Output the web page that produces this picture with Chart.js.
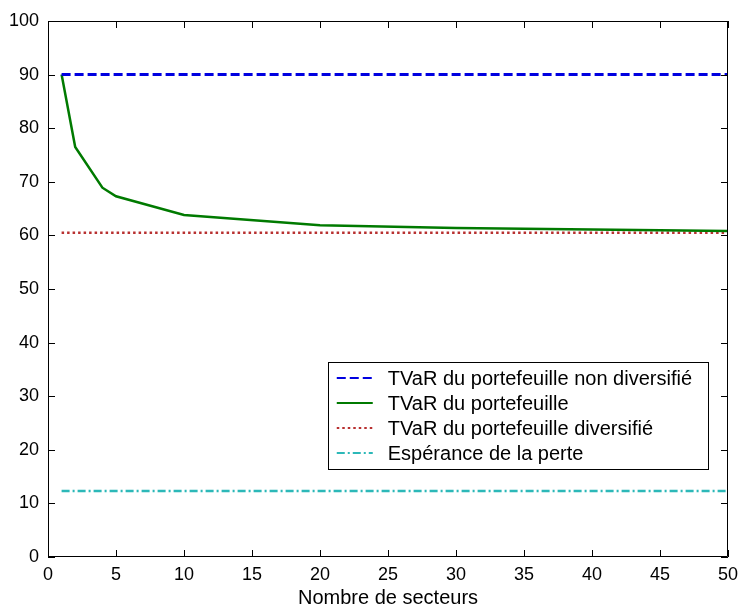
<!DOCTYPE html>
<html>
<head>
<meta charset="utf-8">
<script src="https://cdn.jsdelivr.net/npm/chart.js@4.4.1/dist/chart.umd.min.js"></script>
<style>
    body { margin: 0; background: #fff; }
    canvas { display: block; }
</style>
</head>
<body>
<canvas id="tvarChart" width="741" height="610"></canvas>
<script>
// data
const sectors = [1, 2, 4, 5, 10, 20, 30, 40, 50];
const tvarPortfolio = [90, 76.5, 68.9, 67.3, 63.8, 61.9, 61.4, 61.1, 60.8];
const flatRange = [1, 50];
const tvarNonDiversified = 90;
const tvarDiversified = 60.5;
const expectedLoss = 12.3;
const xTicks = [0, 5, 10, 15, 20, 25, 30, 35, 40, 45, 50];
const yTicks = [0, 10, 20, 30, 40, 50, 60, 70, 80, 90, 100];
const seriesLabels = [
    'TVaR du portefeuille non diversifié',
    'TVaR du portefeuille',
    'TVaR du portefeuille diversifié',
    'Espérance de la perte'
];

const FONT = 'Liberation Sans, Arial, sans-serif';

function flatLine(value) {
    return flatRange.map(x => ({ x: x, y: value }));
}

///////////////////////////// frame + inward ticks /////////////////////////////
const framePlugin = {
    id: 'frame',
    afterDatasetsDraw(chart) {
        const { ctx, chartArea: a, scales } = chart;
        const len = 7;
        ctx.save();
        ctx.strokeStyle = '#000';
        ctx.lineWidth = 1;
        ctx.beginPath();
        ctx.rect(a.left + 0.5, a.top + 0.5, a.right - a.left - 1, a.bottom - a.top - 1);
        xTicks.forEach(v => {
            const px = Math.round(scales.x.getPixelForValue(v)) + 0.5;
            ctx.moveTo(px, a.bottom);
            ctx.lineTo(px, a.bottom - len);
            ctx.moveTo(px, a.top);
            ctx.lineTo(px, a.top + len);
        });
        yTicks.forEach(v => {
            const py = Math.round(scales.y.getPixelForValue(v)) + 0.5;
            ctx.moveTo(a.left, py);
            ctx.lineTo(a.left + len, py);
            ctx.moveTo(a.right, py);
            ctx.lineTo(a.right - len, py);
        });
        ctx.stroke();
        ctx.restore();
    }
};

///////////////////////////// legend inside the plot /////////////////////////////
const boxLegendPlugin = {
    id: 'boxLegend',
    afterDraw(chart) {
        const { ctx, chartArea: a } = chart;
        const sets = chart.data.datasets;
        ctx.save();
        ctx.font = '20px ' + FONT;
        const textW = Math.max(...sets.map(d => ctx.measureText(d.label).width));
        const rowH = 25;
        const w = 60 + textW + 16;
        const h = 16 + rowH * (sets.length - 1) + 16;
        const right = a.right - 20;
        const bottom = a.bottom - 88;
        const left = right - w;
        const top = bottom - h;

        ctx.fillStyle = '#fff';
        ctx.fillRect(left, top, w, h);
        ctx.strokeStyle = '#000';
        ctx.lineWidth = 1;
        ctx.strokeRect(Math.round(left) + 0.5, Math.round(top) + 0.5, Math.round(w), Math.round(h));

        sets.forEach((d, i) => {
            const cy = top + 16 + i * rowH;
            ctx.beginPath();
            ctx.strokeStyle = d.borderColor;
            ctx.lineWidth = 2;
            ctx.setLineDash(d.borderDash || []);
            ctx.moveTo(left + 9, cy);
            ctx.lineTo(left + 45, cy);
            ctx.stroke();
            ctx.setLineDash([]);
            ctx.fillStyle = '#000';
            ctx.textBaseline = 'middle';
            ctx.textAlign = 'left';
            ctx.fillText(d.label, left + 60, cy + 1);
        });
        ctx.restore();
    }
};

const ctx = document.getElementById('tvarChart').getContext('2d');
const tvarChart = new Chart(ctx, {
    type: 'line',
    data: {
        datasets: [
            {
                label: seriesLabels[0],
                data: flatLine(tvarNonDiversified),
                borderColor: '#0000e0',
                borderWidth: 3,
                borderDash: [9, 4]
            },
            {
                label: seriesLabels[1],
                data: sectors.map((s, i) => ({ x: s, y: tvarPortfolio[i] })),
                borderColor: '#007a00',
                borderWidth: 2.5
            },
            {
                label: seriesLabels[2],
                data: flatLine(tvarDiversified),
                borderColor: '#b83030',
                borderWidth: 2.5,
                borderDash: [2.5, 3]
            },
            {
                label: seriesLabels[3],
                data: flatLine(expectedLoss),
                borderColor: '#2cb8b8',
                borderWidth: 2.5,
                borderDash: [8, 3, 2, 3]
            }
        ]
    },
    options: {
        responsive: false,
        animation: false,
        layout: { padding: { top: 21, right: 13, left: 0, bottom: 0 } },
        elements: {
            point: { radius: 0 },
            line: { tension: 0, fill: false }
        },
        plugins: {
            legend: { display: false },
            tooltip: { enabled: false }
        },
        scales: {
            x: {
                type: 'linear',
                min: 0,
                max: 50,
                afterBuildTicks: s => { s.ticks = xTicks.map(v => ({ value: v })); },
                afterFit: s => { s.height = 53; s.paddingLeft = 0; s.paddingRight = 0; },
                grid: { display: false, drawTicks: false },
                border: { display: false },
                ticks: { color: '#000', padding: 7, maxRotation: 0, font: { family: FONT, size: 18 } },
                title: {
                    display: true,
                    text: 'Nombre de secteurs',
                    color: '#000',
                    padding: { top: 0, bottom: 0 },
                    font: { family: FONT, size: 20 }
                }
            },
            y: {
                min: 0,
                max: 100,
                afterBuildTicks: s => { s.ticks = yTicks.map(v => ({ value: v })); },
                afterFit: s => { s.width = 48; s.paddingTop = 0; s.paddingBottom = 0; },
                grid: { display: false, drawTicks: false },
                border: { display: false },
                ticks: { color: '#000', padding: 9, font: { family: FONT, size: 18 } }
            }
        }
    },
    plugins: [framePlugin, boxLegendPlugin]
});
</script>
</body>
</html>
